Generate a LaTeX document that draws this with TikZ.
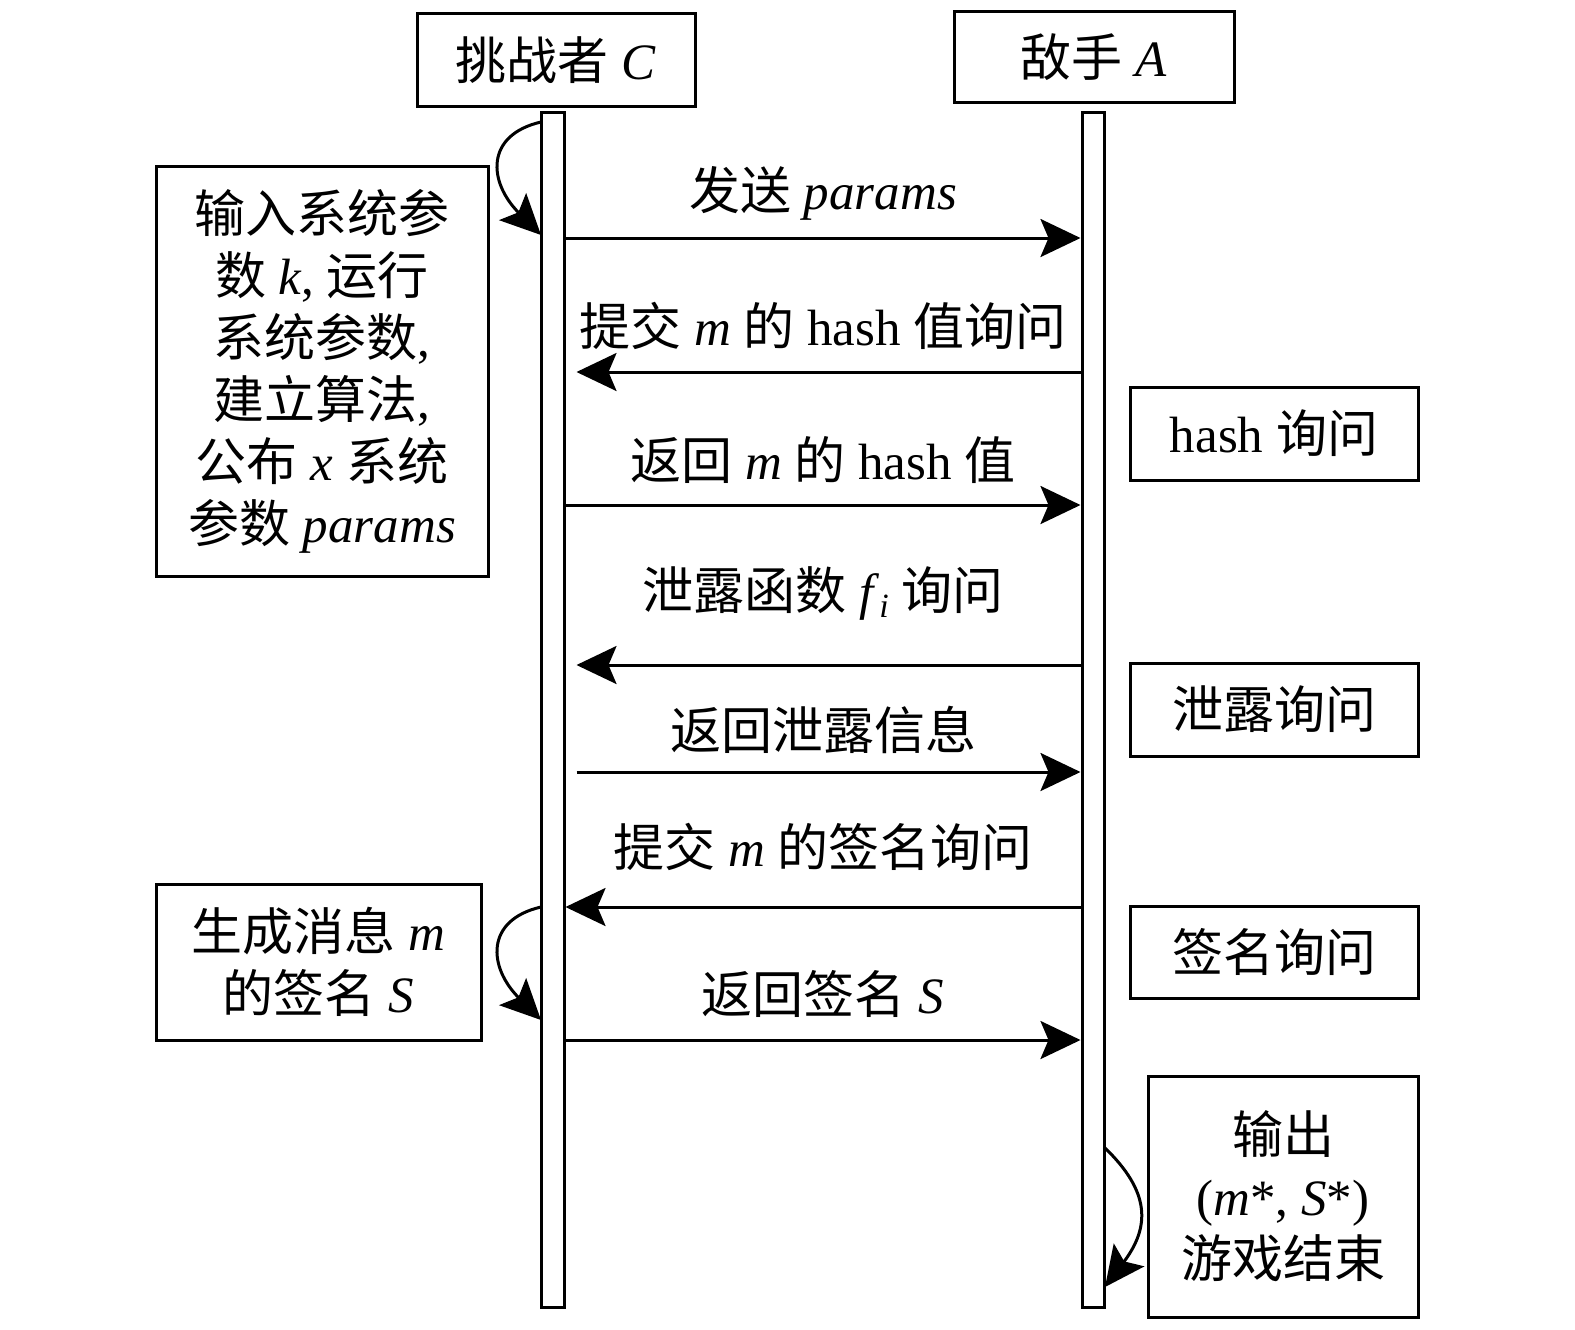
\documentclass[tikz,border=0pt]{standalone}
\usepackage{fontspec}
\setmainfont{Liberation Serif}
\newfontfamily\cjk{Noto Sans CJK SC}
\usetikzlibrary{arrows.meta}
\newcommand{\zh}[1]{{\cjk #1}}
\begin{document}
\begin{tikzpicture}[x=0.5pt,y=-0.5pt,
  every node/.style={font=\fontsize{25.5}{31}\selectfont},
  box/.style={draw, line width=1.5pt, inner sep=0pt, align=center},
  life/.style={draw, line width=1.5pt, fill=white, inner sep=0pt},
  msg/.style={line width=1.5pt, -{Stealth[length=20pt,width=19pt,inset=4pt]}},
  lbl/.style={inner sep=0pt, anchor=center}]
\useasboundingbox (0,0) rectangle (1575,1329);
% headers
\node[box, minimum width=139pt, minimum height=46.25pt] (HC) at (556,60) {\zh{挑战者} \textit{C}};
\node[box, minimum width=140pt, minimum height=45.25pt] (HA) at (1094,57) {\zh{敌手} \textit{A}};
% lifelines
\node[life, minimum width=11.5pt, minimum height=597.75pt] (LC) at (552.5,710) {};
\node[life, minimum width=11pt, minimum height=597.75pt] (LA) at (1093,710) {};
% side boxes
\node[box, minimum width=166pt, minimum height=205pt] (B1) at (322,371)
  {\zh{输入系统参}\\ \zh{数} \textit{k}, \zh{运行}\\ \zh{系统参数},\\ \zh{建立算法},\\ \zh{公布} \textit{x} \zh{系统}\\ \zh{参数} \textit{params}};
\node[box, minimum width=144pt, minimum height=46.5pt] (B2) at (1274,433.5) {hash \zh{询问}};
\node[box, minimum width=144pt, minimum height=46.5pt] (B3) at (1274,709.5) {\zh{泄露询问}};
\node[box, minimum width=162.5pt, minimum height=78pt] (B4) at (318.5,962) {\zh{生成消息} \textit{m}\\ \zh{的签名} \textit{S}};
\node[box, minimum width=144pt, minimum height=46pt] (B5) at (1274,952) {\zh{签名询问}};
\node[box, minimum width=135pt, minimum height=120.5pt] (B6) at (1283,1196.5) {\zh{输出}\\ (\textit{m}*, \textit{S}*)\\ \zh{游戏结束}};
% message levels
\coordinate (y1) at (0,238);
\coordinate (y2) at (0,372);
\coordinate (y3) at (0,505);
\coordinate (y4) at (0,665);
\coordinate (y5) at (0,772);
\coordinate (y6) at (0,907);
\coordinate (y7) at (0,1040);
% messages
\draw[msg] (LC.east |- y1) -- (LA.west |- y1);
\draw[msg] (LA.west |- y2) -- ([xshift=5.5pt]LC.east |- y2);
\draw[msg] (LC.east |- y3) -- (LA.west |- y3);
\draw[msg] (LA.west |- y4) -- ([xshift=5.5pt]LC.east |- y4);
\draw[msg] ([xshift=5.5pt]LC.east |- y5) -- (LA.west |- y5);
\draw[msg] (LA.west |- y6) -- (LC.east |- y6);
\draw[msg] (LC.east |- y7) -- (LA.west |- y7);
% labels
\node[lbl] (L1) at (823,193) {\zh{发送} \textit{params}};
\node[lbl] (L2) at (823,326) {\zh{提交} \textit{m} \zh{的} hash \zh{值询问}};
\node[lbl] (L3) at (823,460) {\zh{返回} \textit{m} \zh{的} hash \zh{值}};
\node[lbl] (L4) at (823,593) {\zh{泄露函数} \textit{f}\raisebox{-0.35ex}{\fontsize{17}{17}\selectfont\textit{i}} \zh{询问}};
\node[lbl] (L5) at (823,730) {\zh{返回泄露信息}};
\node[lbl] (L6) at (823,847) {\zh{提交} \textit{m} \zh{的签名询问}};
\node[lbl] (L7) at (823,994) {\zh{返回签名} \textit{S}};
% self arrows
\coordinate (s1) at (541,122); \coordinate (e1) at (541,235);
\coordinate (s2) at (541,907); \coordinate (e2) at (541,1020);
\coordinate (s3) at (1104,1147); \coordinate (e3) at (1105,1287);
\draw[msg] (s1) .. controls (485,135) and (488,182) .. (e1);
\draw[msg] (s2) .. controls (485,920) and (488,967) .. (e2);
\draw[msg] (s3) .. controls (1151,1192) and (1150,1227) .. (e3);
\end{tikzpicture}
\end{document}
